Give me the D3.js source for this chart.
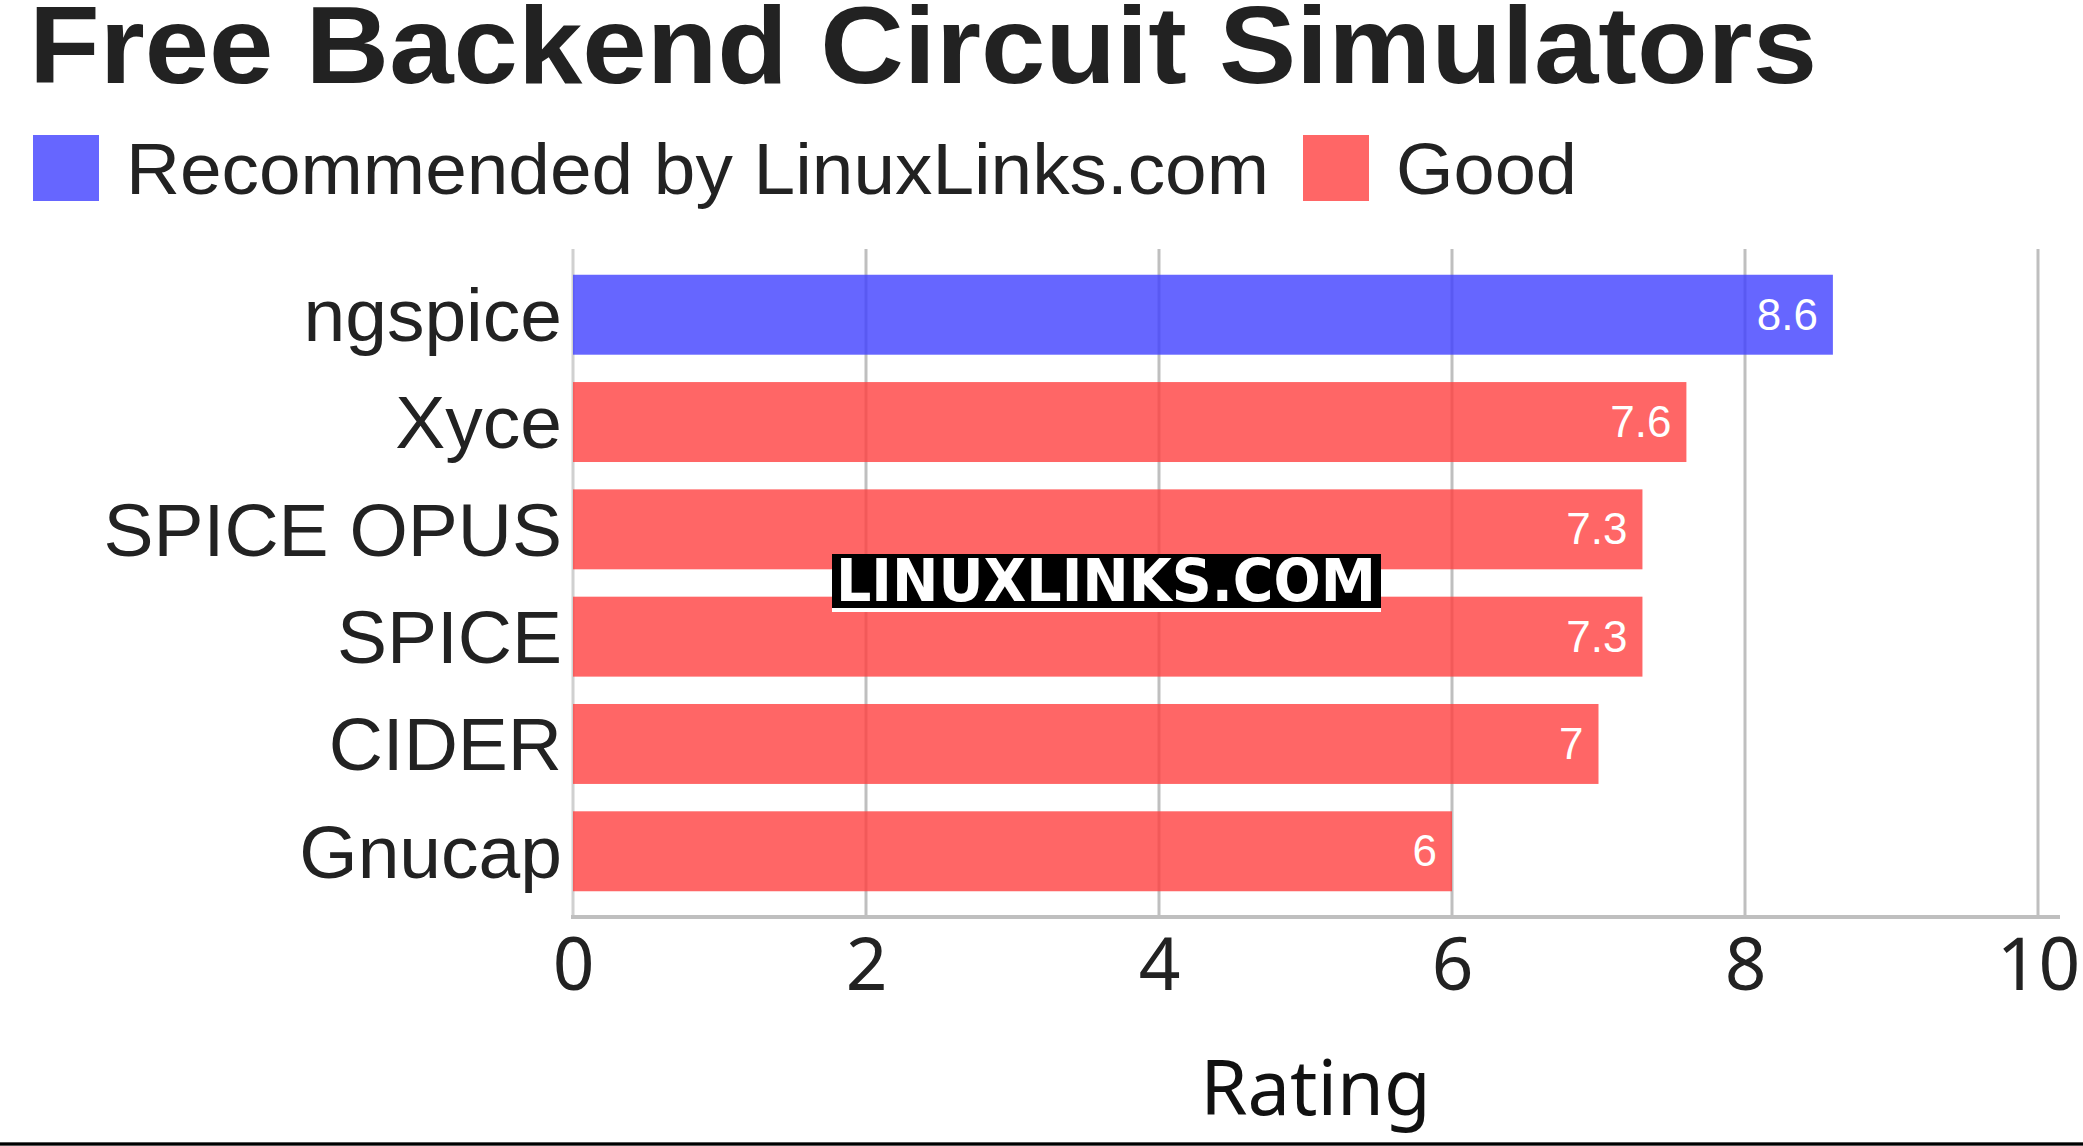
<!DOCTYPE html>
<html><head><meta charset="utf-8">
<script src="https://cdn.jsdelivr.net/npm/d3@7"></script>
<style>body{margin:0;background:#fff;}svg{display:block;}</style>
</head><body>
<script>
const categories = ["ngspice","Xyce","SPICE OPUS","SPICE","CIDER","Gnucap"];
const values = [8.6,7.6,7.3,7.3,7,6];
const groups = ["Recommended by LinuxLinks.com","Good","Good","Good","Good","Good"];
const legendLabels = ["Recommended by LinuxLinks.com","Good"];
const legendColors = ["#4040ff","#ff4040"];
const xTicks = [0,2,4,6,8,10];
const title = "Free Backend Circuit Simulators";
const xTitle = "Rating";

const W=2083,H=1146;
const svg=d3.select("body").append("svg").attr("width",W).attr("height",H);
const x=d3.scaleLinear().domain([0,10]).range([573,2038]);
const y=d3.scaleBand().domain(categories).range([249,917]).paddingInner(0.255).paddingOuter(0.24);
const color=d3.scaleOrdinal().domain(legendLabels).range(legendColors);

svg.append("text").attr("x",29).attr("y",83).attr("font-family","Liberation Sans, Arial").attr("font-weight","bold")
  .attr("font-size",110).attr("fill","#222").attr("textLength",1788).attr("lengthAdjust","spacingAndGlyphs").text(title);

// legend
const lg=svg.append("g");
const lx=[33,1303];
const lw=[1143,181];
legendLabels.forEach((l,i)=>{
  lg.append("rect").attr("x",lx[i]).attr("y",135).attr("width",66).attr("height",66).attr("fill",color(l)).attr("fill-opacity",0.8);
  lg.append("text").attr("x",lx[i]+93).attr("y",194).attr("font-family","Liberation Sans, Arial").attr("font-size",73).attr("fill","#222")
    .attr("textLength",lw[i]).attr("lengthAdjust","spacingAndGlyphs").text(l);
});

// gridlines
svg.append("g").selectAll("line").data(xTicks).join("line")
  .attr("x1",d=>x(d)).attr("x2",d=>x(d)).attr("y1",249).attr("y2",917)
  .attr("stroke",d=>d===0?"#d0d0d0":"#bfbfbf").attr("stroke-width",3);

// bars
svg.append("g").selectAll("rect").data(categories).join("rect")
  .attr("x",x(0)).attr("y",d=>y(d)).attr("width",(d,i)=>x(values[i])-x(0)).attr("height",y.bandwidth())
  .attr("fill",(d,i)=>color(groups[i])).attr("fill-opacity",0.8);

// axis line
svg.append("line").attr("x1",571).attr("x2",2060).attr("y1",917).attr("y2",917).attr("stroke","#bfbfbf").attr("stroke-width",4);

// value labels
svg.append("g").selectAll("text").data(categories).join("text")
  .attr("x",(d,i)=>x(values[i])-15).attr("y",d=>y(d)+y.bandwidth()/2+15)
  .attr("text-anchor","end").attr("font-family","Liberation Sans, Arial").attr("font-size",44).attr("fill","#fff")
  .text((d,i)=>values[i]);

// category labels
const yAxis=d3.axisLeft(y).tickSize(0).tickPadding(0);
const ya=svg.append("g").attr("transform","translate(562,0)").call(yAxis);
ya.select(".domain").remove();
ya.selectAll("text").attr("font-family","Liberation Sans, Arial").attr("font-size",75).attr("fill","#222").attr("dy","0.35em");

// x axis
const xAxis=d3.axisBottom(x).tickValues(xTicks).tickSize(0).tickPadding(0).tickFormat(d3.format("d"));
const xa=svg.append("g").attr("transform","translate(0,990)").call(xAxis);
xa.select(".domain").remove();
xa.selectAll("text").attr("font-family","Noto Sans, Open Sans").attr("font-size",73).attr("fill","#222").attr("dy",0).attr("y",0);

svg.append("text").attr("x",(x(0)+x(10))/2+10).attr("y",1115).attr("text-anchor","middle")
  .attr("font-family","Noto Sans, Open Sans").attr("font-size",76).attr("fill","#111").text(xTitle);

// watermark
const wm=svg.append("g");
wm.append("rect").attr("x",832).attr("y",554).attr("width",549).attr("height",58).attr("fill","#fff");
wm.append("rect").attr("x",832).attr("y",554).attr("width",549).attr("height",54).attr("fill","#000");
wm.append("text").attr("x",836).attr("y",601).attr("font-family","DejaVu Sans").attr("font-weight","bold")
  .attr("font-size",58).attr("fill","#fff").attr("textLength",540).attr("lengthAdjust","spacingAndGlyphs").text("LINUXLINKS.COM");

// bottom rule
svg.append("rect").attr("x",0).attr("y",1142).attr("width",W).attr("height",4).attr("fill","#555");
svg.append("rect").attr("x",0).attr("y",1143).attr("width",W).attr("height",2).attr("fill","#000");
</script>
</body></html>
